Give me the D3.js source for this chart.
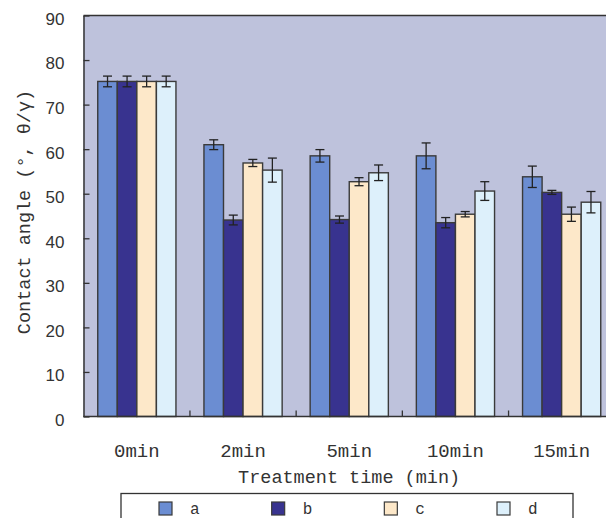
<!DOCTYPE html>
<html>
<head>
<meta charset="utf-8">
<script src="https://cdn.jsdelivr.net/npm/d3@7"></script>
<style>
  html, body { margin: 0; padding: 0; background: #ffffff; }
  svg { display: block; }
</style>
</head>
<body>
<script>
// Contact angle vs. treatment time, four sample series with error bars
const categories = ["0min", "2min", "5min", "10min", "15min"];
const seriesNames = ["a", "b", "c", "d"];

const valuesA = [75.2, 61.0, 58.5, 58.5, 53.8];
const errorsA = [1.2, 1.1, 1.4, 2.9, 2.4];
const valuesB = [75.2, 44.1, 44.2, 43.5, 50.3];
const errorsB = [1.2, 1.1, 0.8, 1.15, 0.45];
const valuesC = [75.2, 56.9, 52.7, 45.4, 45.4];
const errorsC = [1.2, 0.8, 0.9, 0.6, 1.6];
const valuesD = [75.2, 55.3, 54.7, 50.6, 48.1];
const errorsD = [1.2, 2.7, 1.75, 2.1, 2.4];

const yTicks = [0, 10, 20, 30, 40, 50, 60, 70, 80, 90];

const seriesColors = ["#6b8dd2", "#38338f", "#fde8c9", "#ddf0fb"];

const W = 606, H = 518;
const plot = { left: 83.5, right: 614.75, top: 15.5, bottom: 416.5 };

const table = seriesNames.map((name, i) => ({
  name,
  values: [valuesA, valuesB, valuesC, valuesD][i],
  errors: [errorsA, errorsB, errorsC, errorsD][i],
  color: seriesColors[i]
}));

const svg = d3.select("body").append("svg")
  .attr("width", W).attr("height", H);

const x0 = d3.scaleBand().domain(categories)
  .range([plot.left + 0.25, plot.right]).padding(0);
const x1 = d3.scaleBand().domain(seriesNames)
  .range([14, x0.bandwidth() - 14]).padding(0);
const y = d3.scaleLinear().domain([0, 90]).range([plot.bottom, plot.top]);

const mono = "'Liberation Mono', 'DejaVu Sans Mono', monospace";
const sans = "'Liberation Sans', Arial, sans-serif";

// plot background
svg.append("rect")
  .attr("x", plot.left).attr("y", plot.top)
  .attr("width", plot.right - plot.left).attr("height", plot.bottom - plot.top)
  .attr("fill", "#bec2dc");

// bars
const groups = svg.append("g").selectAll("g")
  .data(categories).join("g")
  .attr("transform", d => `translate(${x0(d)},0)`);

groups.selectAll("rect")
  .data((c, ci) => table.map(s => ({ s, v: s.values[ci], e: s.errors[ci] })))
  .join("rect")
  .attr("x", d => x1(d.s.name))
  .attr("y", d => y(d.v))
  .attr("width", x1.bandwidth())
  .attr("height", d => y(0) - y(d.v))
  .attr("fill", d => d.s.color)
  .attr("stroke", "#3a3a3a")
  .attr("stroke-width", 1.4);

// error bars
const eb = groups.selectAll("g.err")
  .data((c, ci) => table.map(s => ({ s, v: s.values[ci], e: s.errors[ci] })))
  .join("g").attr("class", "err")
  .attr("stroke", "#222").attr("stroke-width", 1.3);
const cx = d => x1(d.s.name) + x1.bandwidth() / 2;
eb.append("line")
  .attr("x1", cx).attr("x2", cx)
  .attr("y1", d => y(d.v + d.e)).attr("y2", d => y(d.v - d.e));
eb.append("line")
  .attr("x1", d => cx(d) - 4.5).attr("x2", d => cx(d) + 4.5)
  .attr("y1", d => y(d.v + d.e)).attr("y2", d => y(d.v + d.e));
eb.append("line")
  .attr("x1", d => cx(d) - 4.5).attr("x2", d => cx(d) + 4.5)
  .attr("y1", d => y(d.v - d.e)).attr("y2", d => y(d.v - d.e));

// y axis with inward ticks
const yAxis = svg.append("g")
  .attr("transform", `translate(${plot.left},0)`)
  .call(d3.axisLeft(y).tickValues(yTicks).tickSizeInner(-6).tickSizeOuter(0).tickPadding(19));
yAxis.select(".domain").attr("stroke", "#333").attr("stroke-width", 1.5);
yAxis.selectAll(".tick line").attr("stroke", "#333").attr("stroke-width", 1.3);
yAxis.selectAll(".tick text")
  .attr("font-family", sans).attr("font-size", 17)
  .attr("fill", "#333").attr("dy", "0.52em");

// x axis: labels at group centres, ticks at group boundaries
const xAxis = svg.append("g")
  .attr("transform", `translate(0,${plot.bottom})`)
  .call(d3.axisBottom(x0).tickSize(0).tickPadding(40));
xAxis.select(".domain").remove();
xAxis.selectAll(".tick text")
  .attr("font-family", mono).attr("font-size", 19)
  .attr("fill", "#333").attr("dy", "0");

svg.append("g").selectAll("line")
  .data(categories.slice(1)).join("line")
  .attr("x1", d => x0(d)).attr("x2", d => x0(d))
  .attr("y1", plot.bottom).attr("y2", plot.bottom - 6)
  .attr("stroke", "#333").attr("stroke-width", 1.3);

// frame lines
svg.append("line")
  .attr("x1", plot.left).attr("x2", plot.right)
  .attr("y1", plot.bottom).attr("y2", plot.bottom)
  .attr("stroke", "#333").attr("stroke-width", 1.5);
svg.append("line")
  .attr("x1", plot.left).attr("x2", plot.right)
  .attr("y1", plot.top).attr("y2", plot.top)
  .attr("stroke", "#333").attr("stroke-width", 1.5);

// axis titles
svg.append("text")
  .attr("x", (plot.left + plot.right) / 2).attr("y", 482.5)
  .attr("text-anchor", "middle")
  .attr("font-family", mono).attr("font-size", 18.5).attr("fill", "#333")
  .text("Treatment time (min)");

svg.append("text")
  .attr("transform", "translate(30,212) rotate(-90)")
  .attr("text-anchor", "middle")
  .attr("font-family", mono).attr("font-size", 18.5).attr("fill", "#333")
  .text("Contact angle (°, θ/γ)");

// legend
const legend = svg.append("g");
legend.append("rect")
  .attr("x", 121).attr("y", 493.5).attr("width", 452).attr("height", 40)
  .attr("fill", "#fff").attr("stroke", "#333").attr("stroke-width", 1.3);
const legendX = d3.scalePoint().domain(seriesNames).range([159, 497]);
const items = legend.selectAll("g.item").data(table).join("g").attr("class", "item")
  .attr("transform", d => `translate(${legendX(d.name)},502)`);
items.append("rect")
  .attr("width", 13).attr("height", 13)
  .attr("fill", d => d.color).attr("stroke", "#3a3a3a").attr("stroke-width", 1.2);
items.append("text")
  .attr("x", 31).attr("y", 11.5)
  .attr("font-family", mono).attr("font-size", 16).attr("fill", "#333")
  .text(d => d.name);
</script>
</body>
</html>
